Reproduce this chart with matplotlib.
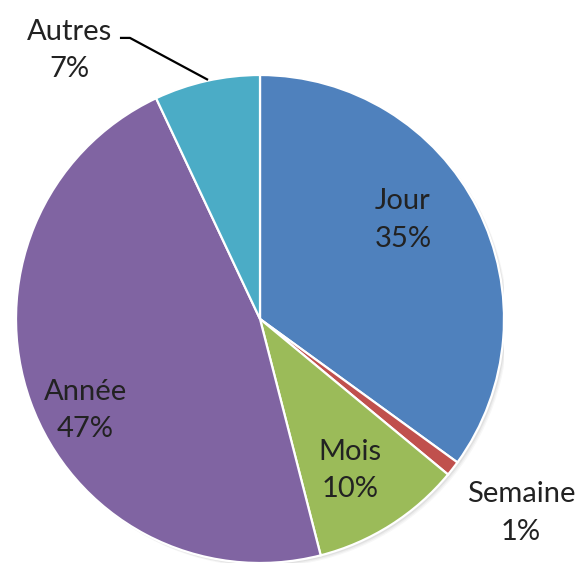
import matplotlib.pyplot as plt
import matplotlib.patches as mpatches

# Share of responses per period
categories = ["Jour", "Semaine", "Mois", "Année", "Autres"]
values = [35, 1, 10, 47, 7]
colors = ["#4F81BD", "#C0504D", "#9BBB59", "#8064A2", "#4BACC6"]

# label centres in data units (pie radius = 1)
label_pos = {
    "Jour": (0.586, 0.405),
    "Semaine": (1.07, -0.795),
    "Mois": (0.37, -0.62),
    "Année": (-0.715, -0.375),
    "Autres": (-0.78, 1.1),
}

plt.rcParams["font.family"] = ["Lato", "DejaVu Sans"]

W, H = 582, 567
fig = plt.figure(figsize=(W / 100, H / 100), dpi=100)
cx, cy, r = 260, 319, 244
ax = fig.add_axes([(cx - r) / W, 1 - (cy + r) / H, 2 * r / W, 2 * r / H])

# soft drop shadow under the pie
for i, a in enumerate([0.05, 0.04, 0.03]):
    ax.add_patch(mpatches.Circle((0.008 + 0.004 * i, -0.008 - 0.004 * i), 1.0,
                                 color="black", alpha=a, lw=0, zorder=0))

ax.pie(values, colors=colors, startangle=90, counterclock=False, radius=1.0,
       wedgeprops=dict(edgecolor="white", linewidth=1.6),
       frame=True)
ax.set_xlim(-1, 1)
ax.set_ylim(-1, 1)
ax.set_aspect("equal")
ax.axis("off")

for name, v in zip(categories, values):
    x, y = label_pos[name]
    ax.text(x, y, f"{name}\n{v}%", ha="center", va="center", fontsize=21,
            color="#222222", linespacing=1.55, clip_on=False)

# leader line for the small outside label
ax.plot([-0.574, -0.533, -0.213], [1.152, 1.152, 0.98], color="black",
        lw=1.6, clip_on=False, solid_capstyle="butt")

fig.savefig("out.png", dpi=100, facecolor="white")
